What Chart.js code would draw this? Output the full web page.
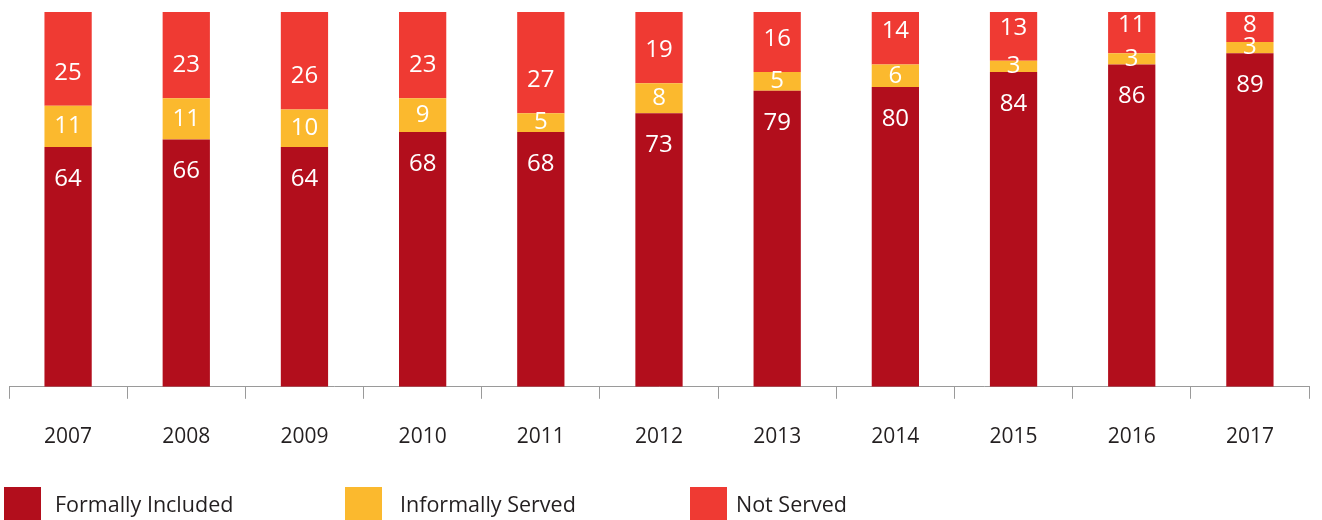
<!DOCTYPE html>
<html>
<head>
<meta charset="utf-8">
<script src="https://cdn.jsdelivr.net/npm/chart.js@4"></script>
<style>
  body { margin: 0; background: #fff; font-family: "Open Sans", sans-serif; }
  #wrap { position: relative; width: 1322px; height: 520px; overflow: hidden; }
  #chartBox { position: absolute; left: 0; top: 0; width: 1322px; height: 487px; }
  .lg { position: absolute; top: 486px; height: 34px; display: flex; align-items: center; font-size: 21.5px; color: #231f20; }
  .lg span.sw { display: inline-block; width: 37px; height: 33px; }
</style>
</head>
<body>
<div id="wrap">
  <div id="chartBox"><canvas id="barChart"></canvas></div>
  <div id="legend"></div>
</div>
<script>
const years = ['2007', '2008', '2009', '2010', '2011', '2012', '2013', '2014', '2015', '2016', '2017'];
const formallyIncluded = [64, 66, 64, 68, 68, 73, 79, 80, 84, 86, 89];
const informallyServed = [11, 11, 10, 9, 5, 8, 5, 6, 3, 3, 3];
const notServed = [25, 23, 26, 23, 27, 19, 16, 14, 13, 11, 8];
const seriesNames = ['Formally Included', 'Informally Served', 'Not Served'];
const seriesColors = ['#b20e1c', '#fbb92e', '#ef3a33'];

// white numbers inside the segments
const segmentLabels = {
  id: 'segmentLabels',
  afterDatasetsDraw(chart) {
    const { ctx } = chart;
    ctx.save();
    ctx.font = '24px "Open Sans"';
    ctx.fillStyle = '#fff';
    ctx.textAlign = 'center';
    ctx.textBaseline = 'middle';
    chart.data.datasets.forEach((ds, di) => {
      chart.getDatasetMeta(di).data.forEach((bar, i) => {
        const top = Math.min(bar.y, bar.base);
        const bottom = Math.max(bar.y, bar.base);
        let y;
        if (di === 0) y = top + 32;
        else if (di === 1) y = (top + bottom) / 2;
        else y = Math.max(bottom - 33, top + 13);
        ctx.fillText(ds.data[i], bar.x, y);
      });
    });
    ctx.restore();
  }
};

const chartData = {
  labels: years,
  datasets: [formallyIncluded, informallyServed, notServed].map((vals, k) => ({
    label: seriesNames[k],
    data: vals,
    backgroundColor: seriesColors[k],
    borderWidth: 0,
    barPercentage: 0.4,
    categoryPercentage: 1
  }))
};

new Chart(document.getElementById('barChart'), {
  type: 'bar',
  data: chartData,
  options: {
    responsive: true,
    maintainAspectRatio: false,
    animation: false,
    layout: { padding: { top: 12, left: 9, right: 13, bottom: 11 } },
    plugins: {
      legend: { display: false },
      tooltip: { enabled: false }
    },
    scales: {
      x: {
        stacked: true,
        grid: { drawOnChartArea: false, drawTicks: true, tickLength: 12, color: '#9a9a9a', offset: true },
        border: { color: '#9a9a9a', width: 1 },
        ticks: { color: '#231f20', font: { family: 'Open Sans', size: 21 }, padding: 26 }
      },
      y: {
        stacked: true,
        display: false,
        min: 0,
        max: 100
      }
    }
  },
  plugins: [segmentLabels]
});

// legend below the chart
const legendX = [4, 345, 690];
const legendGap = [14, 18, 9];
const legendEl = document.getElementById('legend');
seriesNames.forEach((name, k) => {
  const item = document.createElement('div');
  item.className = 'lg';
  item.style.left = legendX[k] + 'px';
  item.innerHTML = '<span class="sw" style="background:' + seriesColors[k] + ';margin-right:' + legendGap[k] + 'px"></span>' + name;
  legendEl.appendChild(item);
});
</script>
</body>
</html>
